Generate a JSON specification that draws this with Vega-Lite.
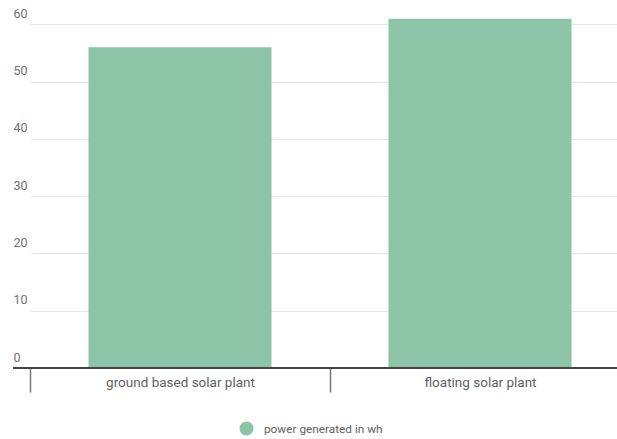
{
  "$schema": "https://vega.github.io/schema/vega-lite/v6.json",
  "width": 604,
  "height": 355,
  "autosize": {"type": "none"},
  "padding": {"left": 13, "top": 13, "right": 0, "bottom": 71},
  "data": {"values": [
    {"plant": "ground based solar plant", "power": 56, "series": "power generated in wh"},
    {"plant": "floating solar plant", "power": 61, "series": "power generated in wh"}
  ]},
  "config": {"view": {"stroke": null}, "font": "Roboto"},
  "layer": [
    {
      "mark": {"type": "bar", "width": {"band": 0.61}},
      "encoding": {
        "x": {
          "field": "plant", "type": "nominal", "sort": null,
          "scale": {"range": [17, 617], "paddingInner": 0, "paddingOuter": 0},
          "axis": {"title": null, "domain": false, "tickBand": "extent", "ticks": true, "tickSize": 24, "tickColor": "#777777", "tickWidth": 1.5, "labelPadding": -17, "labelColor": "#5f5f5f", "labelFontSize": 13.5, "labelAngle": 0, "grid": false}
        },
        "y": {
          "field": "power", "type": "quantitative",
          "scale": {"domain": [0, 62], "nice": false},
          "axis": {"title": null, "values": [0, 10, 20, 30, 40, 50, 60], "domain": false, "ticks": false, "tickSize": 0, "grid": true, "gridColor": "#e6e6e6", "labelAlign": "left", "labelBaseline": "bottom", "labelPadding": 0, "labelOffset": -4, "labelColor": "#707070", "labelFontSize": 12.5}
        },
        "color": {
          "field": "series", "type": "nominal",
          "scale": {"range": ["#8DC3A7"]},
          "legend": {"title": null, "orient": "none", "legendX": 226, "legendY": 408, "symbolType": "circle", "symbolSize": 200, "symbolStrokeWidth": 0, "labelFontSize": 11.8, "labelColor": "#5f5f5f", "labelOffset": 10}
        }
      }
    },
    {
      "mark": {"type": "rule", "color": "#444444", "strokeWidth": 2},
      "encoding": {"y": {"datum": 0}}
    }
  ]
}
